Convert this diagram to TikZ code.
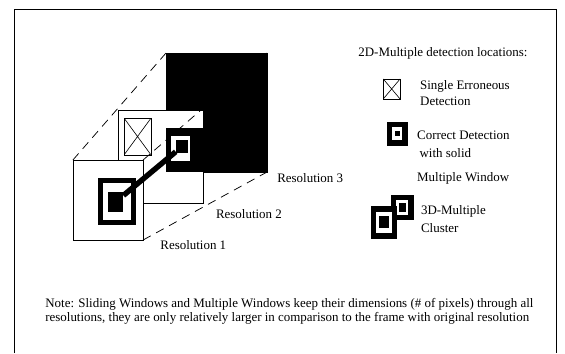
\documentclass[tikz,border=0pt]{standalone}
\usepackage{fontspec}
\setmainfont{Liberation Serif}
\usetikzlibrary{positioning}

\begin{document}
\begin{tikzpicture}[
    font=\fontsize{10.5}{12.5}\selectfont,
    res/.style={rectangle, draw=black, line width=0.6pt, fill=white, inner sep=0pt, outer sep=0pt},
    xbox/.style={rectangle, draw=black, line width=0.6pt, fill=white, inner sep=0pt,
        path picture={\draw[line width=0.5pt] (path picture bounding box.north west) -- (path picture bounding box.south east)
            (path picture bounding box.north east) -- (path picture bounding box.south west);}},
    mwin/.style={rectangle, draw=black, line width=4.4pt, fill=white, inner sep=0pt, outer sep=0pt},
    mcore/.style={rectangle, fill=black, inner sep=0pt, outer sep=0pt},
    persp/.style={dash pattern=on 7pt off 5pt, line width=0.6pt},
    lbl/.style={inner sep=1pt, align=left}
]
\useasboundingbox (0,0) rectangle (16.10,10.06);
% frame, open at the bottom
\draw[line width=0.8pt] (0.40,0) |- (15.85,9.80) -- (15.85,0);

% the three resolutions
\node[res, fill=black, minimum width=2.88cm, minimum height=3.39cm] (res3) at (6.170,6.854) {};
\node[res, minimum width=2.42cm, minimum height=2.65cm] (res2) at (4.574,5.600) {};
\fill (res3.south west) rectangle (res2.east |- 0,6.41);
\node[res, minimum width=2.00cm, minimum height=2.28cm] (res1) at (3.078,4.361) {};
\node[xbox, minimum width=0.77cm, minimum height=1.05cm] (err) at (3.919,6.170) {};

\draw[persp] (res1.north west) -- (res3.north west);
\draw[persp] (res1.north east) -- (res3.north east);
\draw[persp] (res1.south east) -- (res3.south east);

% multiple windows and their link
\node[mwin, minimum width=0.70cm, minimum height=0.87cm] (mw2) at (5.144,5.828) {};
\node[mwin, minimum width=0.95cm, minimum height=1.21cm] (mw1) at (3.335,4.318) {};
\node[mcore, minimum width=0.36cm, minimum height=0.39cm] (mw2c) at (5.187,5.885) {};
\node[mcore, minimum width=0.45cm, minimum height=0.58cm] (mw1c) at (3.292,4.304) {};
\draw[line width=4.4pt] (mw1c) -- (mw2c);

\node[lbl, right=0.25cm of res3.south east, yshift=-0.17cm] (lab3) {Resolution 3};
\node[lbl, right=0.33cm of res2.south east, yshift=-0.31cm] (lab2) {Resolution 2};
\node[lbl, right=0.45cm of res1.south east, yshift=-0.14cm] (lab1) {Resolution 1};

% legend
\node[lbl, anchor=west] (title) at (10.17,8.55) {2D-Multiple detection locations:};
\node[xbox, minimum width=0.48cm, minimum height=0.57cm, below right=0.52cm and 0.74cm of title.south west] (leg1) {};
\node[lbl, below right=0.02cm and 0.52cm of leg1.north east] (txt1) {Single Erroneous\\Detection};

\node[mwin, minimum width=0.45cm, minimum height=0.53cm, below=0.71cm of leg1, xshift=0.16cm] (leg2) {};
\node[mcore, minimum width=0.13cm, minimum height=0.16cm] (leg2c) at (leg2.center) {};
\node[lbl, below right=0.14cm and 0.30cm of leg2.north east] (txt2) {Correct Detection\\[2pt]\hspace{2pt}with solid\\[7pt]Multiple Window};

\node[mwin, minimum width=0.49cm, minimum height=0.57cm, below=1.55cm of leg2, xshift=0.14cm] (leg3a) {};
\node[mcore, minimum width=0.20cm, minimum height=0.25cm] (leg3ac) at (leg3a.center) {};
\node[mwin, minimum width=0.60cm, minimum height=0.77cm, anchor=north east] (leg3b) at ([xshift=0.02cm, yshift=0.24cm]leg3a.south west) {};
\node[mcore, minimum width=0.28cm, minimum height=0.35cm] (leg3bc) at (leg3b.center) {};
\node[lbl, below right=0.20cm and 0.25cm of leg3a.north east] (txt3) {3D-Multiple\\[2pt]Cluster};

% note
\node[lbl, anchor=north west] (note) at (1.25,1.61) {Note: Sliding Windows and Multiple Windows keep their dimensions (\# of pixels) through all\\[-1pt]
resolutions, they are only relatively larger in comparison to the frame with original resolution};
\end{tikzpicture}
\end{document}
